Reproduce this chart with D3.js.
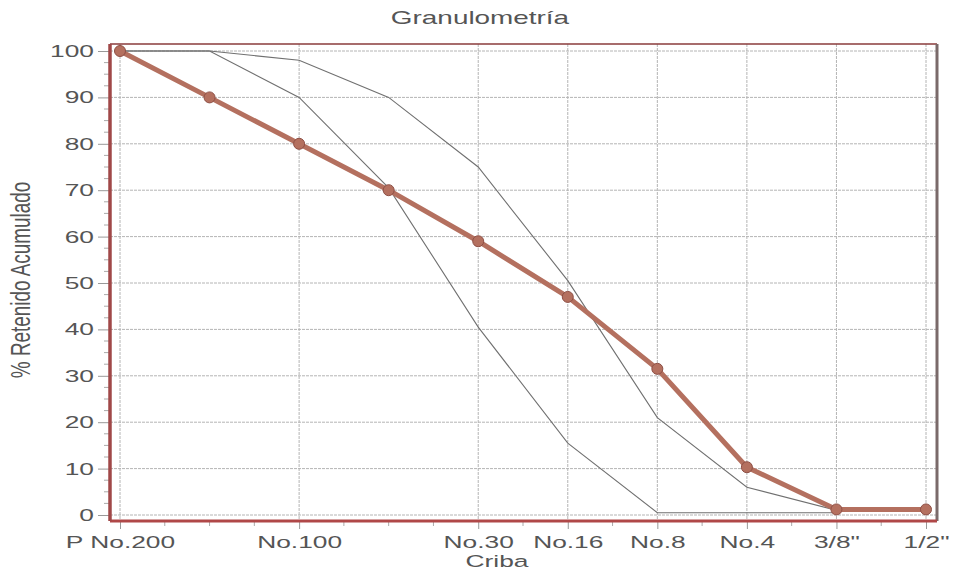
<!doctype html>
<html>
<head>
<meta charset="utf-8">
<script src="https://cdnjs.cloudflare.com/ajax/libs/d3/7.8.5/d3.min.js"></script>
<style>
  body { margin: 0; background: #fff; }
  text { font-family: "Liberation Sans", Arial, sans-serif; fill: #555; }
</style>
</head>
<body>
<svg width="955" height="573"></svg>
<script>
// sieve positions (0..9); only some carry a label
var sieves = ["P No.200", "", "No.100", "", "No.30", "No.16", "No.8", "No.4", "3/8\"", "1/2\""];
var retenido = [100, 90, 80, 70, 59, 47, 31.5, 10.3, 1.2, 1.2];   // muestra
var limiteSup = [100, 100, 98, 90, 75, 50.5, 21, 6, 1, 1];
var limiteInf = [100, 100, 90, 70.5, 40.5, 15.5, 0.5, 0.5, 0.5];
var yTicks = [0, 10, 20, 30, 40, 50, 60, 70, 80, 90, 100];

var SX = 1.55;   // the scanned chart has wide, stretched lettering
var svg = d3.select("svg");
var frame = {left: 110, top: 44, right: 937, bottom: 521};

var x = d3.scaleLinear().domain([0, sieves.length - 1]).range([120, 926]);
var y = d3.scaleLinear().domain([0, 100]).range([515, 51]);

var labeled = d3.range(sieves.length).filter(i => sieves[i] !== "");

// grid
var grid = svg.append("g").attr("stroke", "#b4b4b4").attr("stroke-width", 1)
  .attr("stroke-dasharray", "3,1");
grid.selectAll(".h").data(yTicks).enter().append("line")
  .attr("x1", frame.left).attr("x2", frame.right)
  .attr("y1", d => y(d)).attr("y2", d => y(d));
grid.selectAll(".v").data(labeled).enter().append("line")
  .attr("y1", frame.top).attr("y2", frame.bottom)
  .attr("x1", d => x(d)).attr("x2", d => x(d));

// y axis (outside the frame)
var yAxis = d3.axisLeft(y).tickValues(yTicks).tickSize(12).tickPadding(4);
var gy = svg.append("g").attr("transform", "translate(" + frame.left + ",0)").call(yAxis);
gy.select(".domain").remove();
gy.selectAll("line").attr("stroke", "#999");
gy.selectAll("text").style("font-size", "17px").attr("fill", "#555")
  .attr("x", -16 / SX).attr("transform", "scale(" + SX + ",1)");
var yMinor = d3.range(0, 100, 2.5).filter(v => v % 10 !== 0);
svg.append("g").selectAll("line").data(yMinor).enter().append("line")
  .attr("x1", frame.left - 6).attr("x2", frame.left)
  .attr("y1", d => y(d)).attr("y2", d => y(d))
  .attr("stroke", "#aaa");

// x axis
var xAxis = d3.axisBottom(x).tickValues(labeled).tickFormat(i => sieves[i])
  .tickSize(8).tickPadding(7);
var gx = svg.append("g").attr("transform", "translate(0," + frame.bottom + ")").call(xAxis);
gx.select(".domain").remove();
gx.selectAll("line").attr("stroke", "#999");
gx.selectAll("text").style("font-size", "17px").attr("fill", "#555")
  .attr("transform", "scale(" + SX + ",1)");
var xMinor = d3.range(0, sieves.length - 0.5, 0.5).filter(v => labeled.indexOf(v) < 0);
svg.append("g").selectAll("line").data(xMinor).enter().append("line")
  .attr("x1", d => x(d)).attr("x2", d => x(d))
  .attr("y1", frame.bottom).attr("y2", frame.bottom + 5)
  .attr("stroke", "#aaa");

// frame
svg.append("line").attr("x1", frame.left).attr("x2", frame.right)
  .attr("y1", frame.top).attr("y2", frame.top)
  .attr("stroke", "#8a3b3b").attr("stroke-width", 1.5);
svg.append("line").attr("x1", frame.right).attr("x2", frame.right)
  .attr("y1", frame.top).attr("y2", frame.bottom)
  .attr("stroke", "#7a6a6a").attr("stroke-width", 3);
svg.append("line").attr("x1", frame.left).attr("x2", frame.right)
  .attr("y1", frame.bottom).attr("y2", frame.bottom)
  .attr("stroke", "#b04848").attr("stroke-width", 3);
svg.append("line").attr("x1", frame.left).attr("x2", frame.left)
  .attr("y1", frame.top).attr("y2", frame.bottom)
  .attr("stroke", "#a04848").attr("stroke-width", 3.5);

// limit curves
var line = d3.line().x((d, i) => x(i)).y(d => y(d));
[limiteSup, limiteInf].forEach(s => {
  svg.append("path").datum(s).attr("d", line)
    .attr("fill", "none").attr("stroke", "#707070").attr("stroke-width", 1.1);
});

// sample curve
svg.append("path").datum(retenido).attr("d", line)
  .attr("fill", "none").attr("stroke", "#b4705f").attr("stroke-width", 5)
  .attr("stroke-linejoin", "round");
svg.append("g").selectAll("circle").data(retenido).enter().append("circle")
  .attr("cx", (d, i) => x(i)).attr("cy", d => y(d)).attr("r", 5.5)
  .attr("fill", "#b4705f").attr("stroke", "#8e4f45").attr("stroke-width", 1);

// titles
function label(tx, ty, str, size, tr) {
  svg.append("text").attr("transform", "translate(" + tx + "," + ty + ")" + tr)
    .attr("text-anchor", "middle").style("font-size", size + "px").text(str);
}
label(480, 24, "Granulometría", 18, " scale(" + SX + ",1)");
label(497, 567, "Criba", 17, " scale(" + SX + ",1)");
label(30, 280, "% Retenido Acumulado", 18, " rotate(-90) scale(1.05," + SX + ")");
</script>
</body>
</html>
